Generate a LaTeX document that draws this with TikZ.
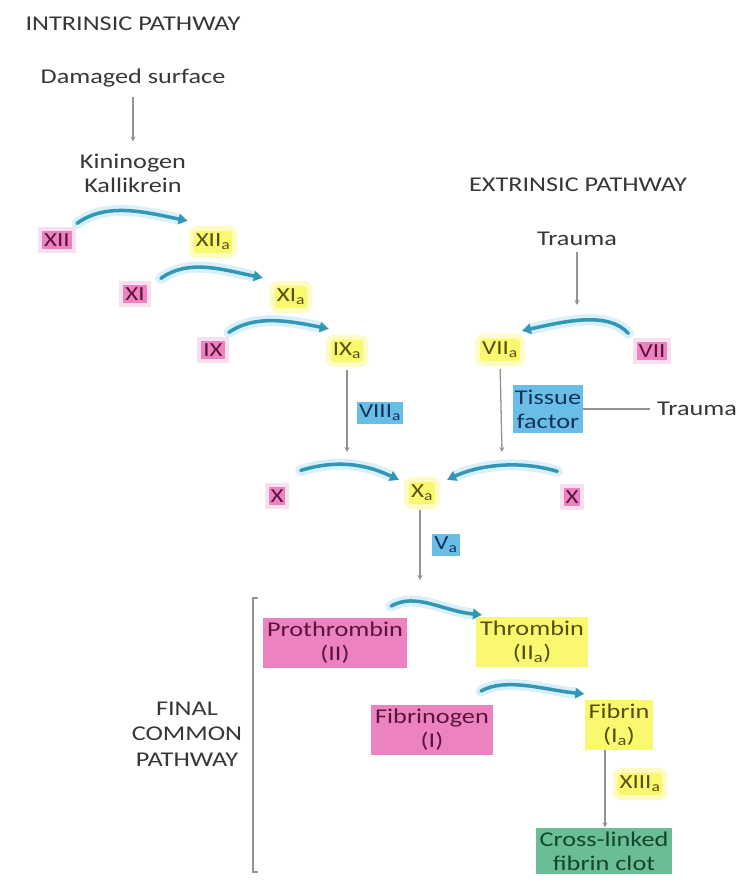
\documentclass[tikz,border=0pt]{standalone}
\usepackage{fontspec}
\setmainfont{Carlito}[FakeStretch=1.25]
\usetikzlibrary{arrows.meta,calc}
\definecolor{pinkf}{RGB}{236,130,192}
\definecolor{pinkt}{RGB}{90,20,60}
\definecolor{yellowf}{RGB}{250,248,110}
\definecolor{yellowt}{RGB}{85,80,15}
\definecolor{bluef}{RGB}{105,190,232}
\definecolor{bluet}{RGB}{20,50,90}
\definecolor{greenf}{RGB}{105,190,150}
\definecolor{greent}{RGB}{20,70,45}
\definecolor{headt}{RGB}{55,55,55}
\definecolor{casc}{RGB}{50,150,180}
\definecolor{glowc}{RGB}{215,240,250}
\begin{document}
\begin{tikzpicture}[x=1pt,y=-1pt,
  lbl/.style={font=\fontsize{21}{24}\selectfont, inner sep=0pt, align=center},
  head/.style={lbl, text=headt},
  small/.style={lbl, font=\fontsize{20}{23}\selectfont, inner xsep=2pt, inner ysep=3pt},
  pk/.style={small, fill=pinkf, text=pinkt, preaction={draw=pinkf!25, line width=8pt, rounded corners=4pt}},
  yl/.style={small, fill=yellowf, text=yellowt, rounded corners=3pt, preaction={draw=yellowf!40, line width=10pt, rounded corners=5pt}},
  bl/.style={small, fill=bluef, text=bluet},
  boxed/.style={lbl, inner xsep=4pt, inner ysep=4pt},
  pkbox/.style={boxed, fill=pinkf, text=pinkt},
  ylbox/.style={boxed, fill=yellowf, text=yellowt},
  blbox/.style={boxed, fill=bluef, text=bluet},
  grbox/.style={boxed, fill=greenf, text=greent},
  cascade/.style={draw=casc, line width=3.5pt, line cap=round,
    -{Triangle[length=9pt,width=10pt]},
    preaction={draw=glowc, line width=11pt, line cap=round}},
  thin/.style={draw=gray!85, line width=1.3pt, -{Stealth[length=5pt,width=5pt]}},
  plain/.style={draw=gray!85, line width=1.3pt}
]
\useasboundingbox[fill=white] (0,0) rectangle (740,886);

% Intrinsic pathway
\node[head] (intr) at (133,24) {INTRINSIC PATHWAY};
\node[head] (dam) at (133,78) {Damaged surface};
\node[head] (kin) at (133,173) {Kininogen\\Kallikrein};
\draw[thin, shorten <=10pt, shorten >=12pt] (dam) -- (kin);

\node[pk] (xii) at (57,240) {XII};
\node[yl] (xiia) at (213,242) {XII\textsubscript{a}};
\node[pk] (xi) at (135,294) {XI};
\node[yl] (xia) at (291,297) {XI\textsubscript{a}};
\node[pk] (ix) at (213,350) {IX};
\node[yl] (ixa) at (347,351) {IX\textsubscript{a}};

\draw[cascade] ([shift={(5,-7)}]xii.north east) .. controls +(30,-22) and +(-40,-8) .. ([shift={(-6,-10)}]xiia.north west);
\draw[cascade] ([shift={(14,-6)}]xi.north east) .. controls +(28,-20) and +(-40,-8) .. ([shift={(-12,-8)}]xia.north west);
\draw[cascade] ([shift={(4,-8)}]ix.north east) .. controls +(26,-18) and +(-40,-8) .. ([shift={(-2,-11)}]ixa.north west);

\node[bl] (viiia) at (380,413) {VIII\textsubscript{a}};

% Extrinsic pathway
\node[head] (ext) at (578,185) {EXTRINSIC PATHWAY};
\node[head] (tr1) at (577,239) {Trauma};
\node[yl] (viia) at (500,350) {VII\textsubscript{a}};
\node[pk] (vii) at (652,351) {VII};
\coordinate (trend) at (577,305);
\draw[thin, shorten <=6pt] (tr1) -- (trend);
\draw[cascade] ([shift={(-8,-8)}]vii.north west) .. controls +(-20,-22) and +(45,-10) .. ([shift={(2,-8)}]viia.north east);

\node[blbox, inner xsep=2pt, inner ysep=5pt] (tf) at (548,409) {Tissue\\factor};
\node[head, anchor=west] (tr2) at (657,409) {Trauma};
\draw[plain, shorten >=7pt] (tf.east) -- (tr2.west);

% Common X activation
\node[pk] (xl) at (277,496) {X};
\node[yl] (xa) at (422,493) {X\textsubscript{a}};
\node[pk] (xr) at (572,497) {X};
\coordinate (viiiend) at (347,452);
\coordinate (tfend) at (502,452);
\draw[thin, shorten <=8pt] (ixa.south) -- (viiiend);
\draw[thin, shorten <=8pt] (viia.south) -- (tfend);
\draw[cascade] ([shift={(15,-16)}]xl.north east) .. controls +(40,-12) and +(-30,-14) .. ([shift={(-10,-2)}]xa.north west);
\draw[cascade] ([shift={(-6,-16)}]xr.north west) .. controls +(-40,-12) and +(30,-14) .. ([shift={(12,-2)}]xa.north east);

\node[bl] (va) at (446,545) {V\textsubscript{a}};
\coordinate (xaend) at (420,580);
\draw[thin, shorten <=6pt] (xa.south -| xaend) -- (xaend);

% Final common pathway
\node[pkbox] (pro) at (335,643) {Prothrombin\\(II)};
\node[ylbox] (thr) at (532,642) {Thrombin\\(II\textsubscript{a})};
\node[pkbox] (fbg) at (432,730) {Fibrinogen\\(I)};
\node[ylbox] (fbn) at (619,725) {Fibrin\\(I\textsubscript{a})};
\node[yl] (xiiia) at (640,784) {XIII\textsubscript{a}};
\node[grbox] (clot) at (604,851) {Cross-linked\\fibrin clot};

\draw[cascade] ([shift={(-16,-12)}]pro.north east) .. controls +(25,-14) and +(-40,-4) .. ([shift={(6,-2)}]thr.north west);
\draw[cascade] ([shift={(-12,-14)}]fbg.north east) .. controls +(25,-14) and +(-40,-4) .. ([shift={(0,-6)}]fbn.north west);

\coordinate (fbnx) at (605,0);
\draw[thin] (fbn.south -| fbnx) -- (clot.north -| fbnx);

\node[head, font=\fontsize{21}{25.5}\selectfont] (fcp) at (187,734) {FINAL\\COMMON\\PATHWAY};
\coordinate (brt) at (253,598);
\coordinate (brb) at (253,872);
\draw[plain, line width=1.2pt] ([xshift=5pt]brt) -- (brt) -- (brb) -- ([xshift=5pt]brb);
\end{tikzpicture}
\end{document}
